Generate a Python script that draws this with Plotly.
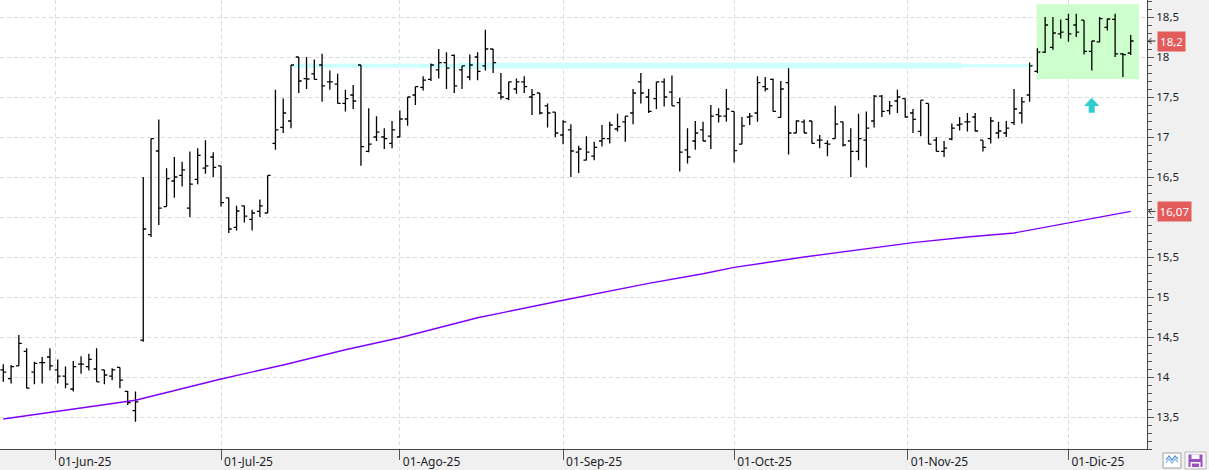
import pandas as pd
import plotly.graph_objects as go

# ---------------- data ----------------
dates = pd.bdate_range("2025-05-22", "2025-12-11")

open_ = [14.09, 13.98, 14.14, 14.32, 14.06, 14.18, 14.25, 14.09, 14.01, 13.85,
         14.16, 14.13, 14.10, 14.09, 14.01, 14.12, 13.82, 13.58, 14.46, 15.78,
         16.825, 16.13, 16.45, 16.52, 16.11, 16.47, 16.61, 16.75, 16.64, 16.24,
         15.87, 16.14, 15.97, 16.07, 16.05, 16.92, 17.12, 17.20, 18.00, 17.73,
         17.79, 17.90, 17.69, 17.66, 17.42, 17.525, 17.90, 16.82, 17.00, 17.00,
         16.92, 17.00, 17.225, 17.525, 17.62, 17.72, 17.84, 17.93, 18.02, 17.84,
         17.75, 18.00, 17.89, 18.10, 17.55, 17.48, 17.60, 17.69, 17.50, 17.55,
         17.39, 17.31, 17.025, 17.09, 16.81, 16.71, 16.76, 16.95, 16.98, 17.10,
         17.19, 17.30, 17.69, 17.50, 17.48, 17.69, 17.56, 17.43, 16.84, 16.95,
         17.09, 17.01, 17.28, 17.26, 17.32, 16.91, 17.25, 17.30, 17.63, 17.72,
         17.245, 17.68, 17.05, 17.19, 17.20, 16.96, 16.92, 16.98, 17.19, 16.95,
         16.82, 16.96, 17.20, 17.51, 17.33, 17.45, 17.48, 17.30, 17.07, 17.42,
         16.96, 16.82, 16.975, 17.15, 17.19, 17.25, 16.96, 16.98, 17.05, 17.05,
         17.18, 17.30, 17.525, 17.82, 18.06, 18.12, 18.29, 18.47, 18.40, 18.46,
         18.07, 18.19, 18.37, 18.47, 18.04, 18.05]

high = [14.16, 14.15, 14.525, 14.36, 14.19, 14.25, 14.36, 14.22, 14.13, 14.20,
        14.26, 14.29, 14.36, 14.09, 14.11, 14.12, 13.825, 13.82, 16.50, 16.98,
        17.22, 16.61, 16.75, 16.69, 16.82, 16.86, 16.96, 16.81, 16.64, 16.24,
        16.14, 16.14, 16.09, 16.22, 16.52, 17.59, 17.48, 17.90, 18.00, 18.00,
        17.97, 18.04, 17.83, 17.79, 17.59, 17.65, 17.90, 17.36, 17.26, 17.11,
        17.20, 17.33, 17.50, 17.63, 17.76, 17.92, 18.10, 18.06, 18.03, 17.89,
        18.03, 18.06, 18.34, 18.10, 17.80, 17.69, 17.73, 17.76, 17.60, 17.55,
        17.42, 17.31, 17.21, 17.16, 16.89, 17.01, 16.94, 17.15, 17.19, 17.29,
        17.26, 17.60, 17.80, 17.60, 17.69, 17.73, 17.77, 17.49, 17.11, 17.20,
        17.19, 17.40, 17.36, 17.60, 17.32, 17.25, 17.30, 17.76, 17.75, 17.73,
        17.70, 17.86, 17.21, 17.22, 17.20, 17.025, 16.96, 17.39, 17.19, 17.11,
        17.29, 17.32, 17.525, 17.525, 17.45, 17.59, 17.48, 17.35, 17.46, 17.42,
        17.00, 16.95, 17.17, 17.25, 17.30, 17.30, 16.96, 17.25, 17.19, 17.20,
        17.60, 17.50, 17.93, 18.11, 18.50, 18.50, 18.47, 18.54, 18.54, 18.46,
        18.20, 18.50, 18.48, 18.54, 18.05, 18.275]

low = [13.94, 13.92, 14.14, 13.86, 13.91, 13.92, 14.08, 13.92, 13.86, 13.82,
       14.04, 14.08, 13.94, 13.91, 13.96, 13.86, 13.65, 13.44, 14.44, 15.75,
       15.90, 16.13, 16.24, 16.38, 16.00, 16.41, 16.54, 16.50, 16.13, 15.80,
       15.83, 15.93, 15.83, 16.00, 16.05, 16.84, 17.05, 17.11, 17.55, 17.60,
       17.72, 17.44, 17.59, 17.42, 17.32, 17.35, 16.64, 16.81, 16.95, 16.85,
       16.86, 17.00, 17.14, 17.40, 17.58, 17.70, 17.73, 17.60, 17.55, 17.60,
       17.71, 17.71, 17.83, 17.80, 17.47, 17.46, 17.54, 17.55, 17.275, 17.28,
       17.12, 17.00, 16.91, 16.50, 16.55, 16.71, 16.71, 16.88, 16.92, 17.07,
       16.94, 17.16, 17.42, 17.30, 17.35, 17.38, 17.39, 16.57, 16.67, 16.84,
       16.95, 16.85, 17.18, 17.19, 16.68, 16.91, 17.15, 17.19, 17.57, 17.32,
       17.245, 16.78, 17.05, 17.05, 16.92, 16.86, 16.76, 16.98, 16.88, 16.50,
       16.71, 16.62, 17.12, 17.25, 17.28, 17.30, 17.245, 17.05, 17.01, 16.91,
       16.82, 16.75, 16.96, 17.08, 17.07, 17.07, 16.82, 16.92, 16.98, 17.00,
       17.15, 17.17, 17.44, 17.80, 18.05, 18.09, 18.23, 18.19, 18.25, 18.03,
       17.83, 18.18, 18.33, 18.00, 17.75, 18.025]

close = [14.06, 14.13, 14.42, 13.86, 14.17, 14.18, 14.14, 14.01, 13.91, 14.13,
         14.16, 14.22, 13.94, 14.025, 14.09, 13.96, 13.68, 13.69, 15.85, 16.98,
         16.11, 16.48, 16.50, 16.59, 16.41, 16.77, 16.64, 16.62, 16.18, 15.85,
         16.075, 16.01, 16.05, 16.14, 16.52, 17.09, 17.30, 17.90, 17.70, 17.725,
         17.72, 17.64, 17.69, 17.42, 17.48, 17.45, 16.88, 16.91, 17.06, 16.98,
         17.09, 17.225, 17.50, 17.63, 17.71, 17.90, 17.93, 17.86, 17.64, 17.89,
         17.90, 17.82, 18.10, 17.93, 17.50, 17.69, 17.69, 17.63, 17.53, 17.30,
         17.30, 17.05, 17.19, 16.825, 16.85, 16.81, 16.87, 16.98, 17.15, 17.13,
         17.26, 17.55, 17.55, 17.32, 17.69, 17.50, 17.39, 16.81, 16.75, 17.05,
         16.95, 17.26, 17.26, 17.35, 16.83, 17.14, 17.26, 17.68, 17.60, 17.32,
         17.60, 17.05, 17.20, 17.05, 16.92, 16.96, 16.91, 17.16, 16.90, 16.82,
         16.98, 17.11, 17.51, 17.32, 17.39, 17.50, 17.25, 17.22, 17.46, 16.91,
         16.82, 16.86, 17.11, 17.16, 17.19, 17.075, 16.87, 17.20, 17.075, 17.11,
         17.35, 17.44, 17.89, 18.06, 18.40, 18.30, 18.31, 18.29, 18.31, 18.07,
         18.20, 18.48, 18.475, 18.04, 18.03, 18.20]

# moving-average line, read at these bars
ma_bar = [0, 7, 17, 28, 36, 44, 51, 61, 72, 83, 90, 94, 103, 117, 124, 130, 137, 141, 145]
ma_val = [13.475, 13.57, 13.71, 13.975, 14.15, 14.34, 14.49, 14.74, 14.96, 15.17,
          15.29, 15.37, 15.50, 15.68, 15.75, 15.80, 15.93, 16.00, 16.07]

tick_dates = ["2025-06-01", "2025-07-01", "2025-08-01", "2025-09-01",
              "2025-10-01", "2025-11-01", "2025-12-01"]
tick_labels = ["01-Jun-25", "01-Jul-25", "01-Ago-25", "01-Sep-25",
               "01-Oct-25", "01-Nov-25", "01-Dic-25"]

y_ticks = [13.5, 14.0, 14.5, 15.0, 15.5, 16.0, 16.5, 17.0, 17.5, 18.0, 18.5]

level_value = 17.89          # horizontal resistance line
box_low, box_high = 17.725, 18.66

# ---------------- helpers ----------------
n = len(dates)
xs = list(range(n))


def date_pos(ds):
    d = pd.Timestamp(ds)
    nxt = dates.searchsorted(d)
    if nxt < n and dates[nxt] == d:
        return float(nxt)
    prv = nxt - 1
    return prv + (d - dates[prv]).days / (dates[nxt] - dates[prv]).days


tick_pos = [date_pos(d) for d in tick_dates]

PLOT_W, PLOT_H = 1147, 449
BAR_PX = 7.775
X0_PX = 3.3
x_lo = -X0_PX / BAR_PX
x_hi = x_lo + PLOT_W / BAR_PX
Y_TOP = 18.7125
Y_BOT = Y_TOP - PLOT_H / 80.0


def px(xp):
    return xp / PLOT_W


def py(yp):
    return (PLOT_H - yp) / PLOT_H


def fmt(v, d):
    s = f"{v:.{d}f}"
    if "." in s:
        s = s.rstrip("0").rstrip(".")
    return s.replace(".", ",")


# price labels on the right axis (value, text, box width px)
labels = [(close[-1], fmt(close[-1], 1), 27), (ma_val[-1], fmt(ma_val[-1], 2), 33)]

# y tick labels hidden where a price label box covers them (as in the source)
y_ticktext = []
for t in y_ticks:
    covered = any(abs(t - v) < 0.1 for v, _, _ in labels)
    y_ticktext.append("" if covered else fmt(t, 1))

# ---------------- figure ----------------
fig = go.Figure()

fig.add_trace(go.Scatter(x=ma_bar, y=ma_val, mode="lines",
                         line=dict(color="#8000ff", width=1.4), hoverinfo="skip"))

fig.add_trace(go.Ohlc(x=xs, open=open_, high=high, low=low, close=close,
                      increasing=dict(line=dict(color="black", width=1.3)),
                      decreasing=dict(line=dict(color="black", width=1.3)),
                      tickwidth=0.38))

shapes = []
# green box
shapes.append(dict(type="rect", xref="x", yref="y", x0=132.9, x1=146.07,
                   y0=box_low, y1=box_high, fillcolor="#ccffcc",
                   line=dict(width=0), layer="between"))
# cyan level line
for (a, b, w) in [(37.1, 58.6, 4), (58.6, 123.3, 6), (123.3, 132.5, 3)]:
    shapes.append(dict(type="line", xref="x", yref="y", x0=a, x1=b,
                       y0=level_value, y1=level_value,
                       line=dict(color="#ccffff", width=w), layer="between"))
# teal up arrow
shapes.append(dict(type="path", xref="x", yref="y",
                   path="M 139.0,17.3875 L 139.98,17.491 L 140.97,17.3875 L 140.37,17.3875 "
                        "L 140.37,17.304 L 139.6,17.304 L 139.6,17.3875 Z",
                   fillcolor="#33cccc", line=dict(width=0), layer="above"))

annotations = []
for val, txt, w in labels:
    annotations.append(dict(xref="paper", yref="y", x=px(1157), y=val,
                            xanchor="left", yanchor="middle", text=txt,
                            showarrow=False, bgcolor="#e35b5b",
                            font=dict(color="white", size=11.5, family="Noto Sans"),
                            width=w - 2, height=17, borderpad=1))
    d = 0.0375
    shapes.append(dict(type="path", xref="paper", yref="y",
                       path=f"M {px(1155.5)},{val} L {px(1148.5)},{val} "
                            f"M {px(1151.5)},{val + d} L {px(1148.5)},{val} L {px(1151.5)},{val - d}",
                       line=dict(color="#333333", width=1), layer="above"))

# bottom-right toolbar icons
shapes.append(dict(type="rect", xref="paper", yref="paper", x0=px(1163), x1=px(1181),
                   y0=py(468), y1=py(453), fillcolor="white",
                   line=dict(color="#a0a0a0", width=1), layer="above"))
shapes.append(dict(type="path", xref="paper", yref="paper",
                   path=f"M {px(1166)},{py(460)} L {px(1169)},{py(456)} L {px(1172)},{py(460)} "
                        f"L {px(1175)},{py(456)} L {px(1178)},{py(459)}",
                   line=dict(color="#4a8fd8", width=1.2), layer="above"))
shapes.append(dict(type="path", xref="paper", yref="paper",
                   path=f"M {px(1166)},{py(463)} L {px(1169)},{py(459)} L {px(1172)},{py(463)} "
                        f"L {px(1175)},{py(459)} L {px(1178)},{py(462)}",
                   line=dict(color="#7fb6ea", width=1.2), layer="above"))
shapes.append(dict(type="rect", xref="paper", yref="paper", x0=px(1185), x1=px(1206),
                   y0=py(469), y1=py(452), fillcolor="#f7f7f7",
                   line=dict(color="#b8b8b8", width=1), layer="above"))
shapes.append(dict(type="rect", xref="paper", yref="paper", x0=px(1188.5), x1=px(1202.5),
                   y0=py(467), y1=py(454.5), fillcolor="#9b4fc4",
                   line=dict(width=0), layer="above"))
shapes.append(dict(type="rect", xref="paper", yref="paper", x0=px(1191.5), x1=px(1199.5),
                   y0=py(459), y1=py(454.5), fillcolor="white",
                   line=dict(width=0), layer="above"))
shapes.append(dict(type="rect", xref="paper", yref="paper", x0=px(1190.5), x1=px(1200.5),
                   y0=py(467), y1=py(462), fillcolor="white",
                   line=dict(width=0), layer="above"))
shapes.append(dict(type="rect", xref="paper", yref="paper", x0=px(1192), x1=px(1199),
                   y0=py(467), y1=py(463.5), fillcolor="#9b4fc4",
                   line=dict(width=0), layer="above"))

fig.update_layout(
    width=1209, height=470,
    margin=dict(l=0, r=62, t=0, b=21),
    paper_bgcolor="#f0f0f0", plot_bgcolor="white",
    showlegend=False, separators=", ",
    font=dict(family="Noto Sans", color="#1c1c28"),
    shapes=shapes, annotations=annotations,
)

fig.update_xaxes(
    range=[x_lo, x_hi], tickmode="array", tickvals=tick_pos, ticktext=tick_labels,
    ticks="outside", ticklen=10, tickcolor="#555555", tickwidth=1,
    showline=True, linecolor="#444444", linewidth=1,
    showgrid=True, gridcolor="#dcdcdc", griddash="4px,3px", gridwidth=1,
    zeroline=False, ticklabelposition="outside right", ticklabelstandoff=2,
    ticklabelshift=2,
    tickfont=dict(size=12, color="#1c1c28"),
    rangeslider=dict(visible=False),
)

fig.update_yaxes(
    side="right", range=[Y_BOT, Y_TOP], tickmode="array",
    tickvals=y_ticks, ticktext=y_ticktext,
    ticks="outside", ticklen=6, tickcolor="#555555", tickwidth=1,
    showline=True, linecolor="#444444", linewidth=1,
    showgrid=True, gridcolor="#dcdcdc", griddash="4px,3px", gridwidth=1,
    zeroline=False, tickfont=dict(size=11.5, color="#1c1c28"),
    minor=dict(dtick=0.1, tick0=0, ticks="outside", ticklen=4,
               tickcolor="#555555", showgrid=False),
)

fig.write_html("out.html")
